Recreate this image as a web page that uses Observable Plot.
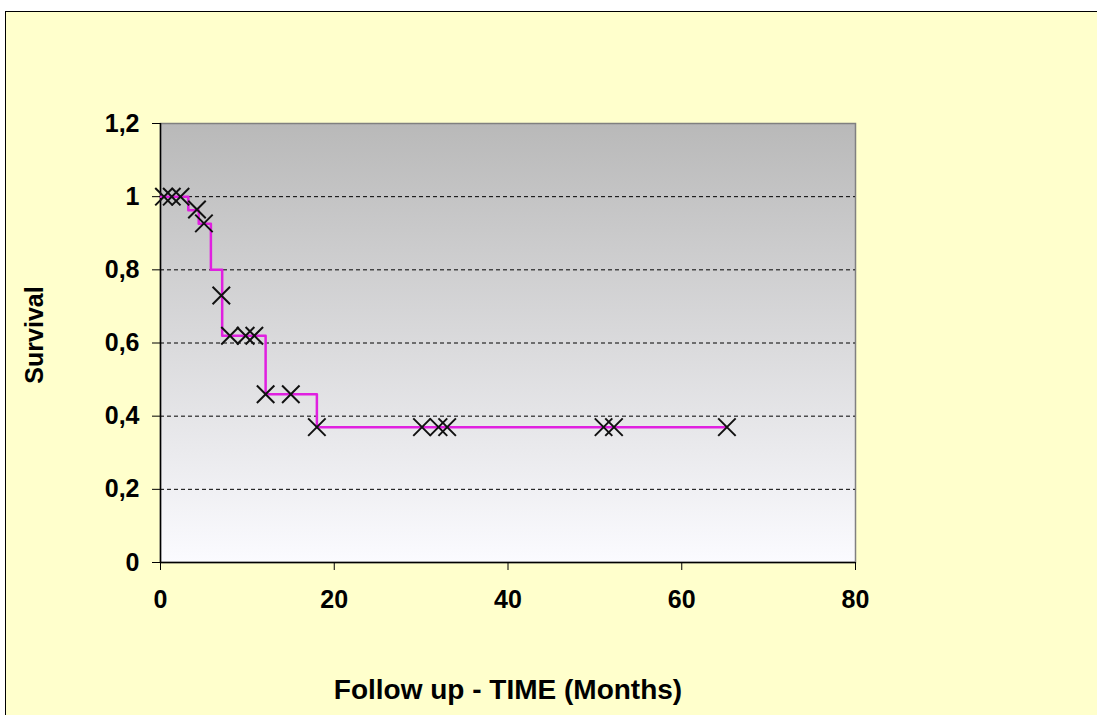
<!DOCTYPE html>
<html>
<head>
<meta charset="utf-8">
<script src="https://cdn.jsdelivr.net/npm/d3@7"></script>
<script src="https://cdn.jsdelivr.net/npm/@observablehq/plot@0.6"></script>
<style>
  html, body { margin: 0; padding: 0; background: #ffffff; overflow: hidden; }
  #frame { position: absolute; left: 5px; top: 11px; width: 1200px; height: 800px;
           background: #FFFFCC; border: 1px solid #000; }
  #chart { position: absolute; left: 0; top: 0; }
</style>
</head>
<body>
<div id="frame"></div>
<div id="chart"></div>
<script>
// Kaplan–Meier step curve (time in months, survival)
const stepTimes = [0, 3.2, 4.4, 5.8, 7.1, 12.1, 18.0, 65.2];
const stepSurv  = [1, 0.963, 0.926, 0.80, 0.62, 0.46, 0.37, 0.37];

// Observation markers (crosses)
const markTimes = [0.4, 1.3, 2.3, 4.2, 5.0, 7.0, 8.0, 9.8, 10.8, 12.1, 15.0, 18.0, 30.1, 32.0, 33.0, 51.0, 52.2, 65.2];
const markSurv  = [1, 1, 1, 0.965, 0.927, 0.73, 0.62, 0.62, 0.62, 0.46, 0.46, 0.37, 0.37, 0.37, 0.37, 0.37, 0.37, 0.37];

const xTicks = [0, 20, 40, 60, 80];
const yTicks = [0, 0.2, 0.4, 0.6, 0.8, 1, 1.2];
const gridY  = [0.2, 0.4, 0.6, 0.8, 1];

const xTitle = "Follow up - TIME (Months)";
const yTitle = "Survival";

const stepData = stepTimes.map((t, i) => ({t, s: stepSurv[i]}));
const markData = markTimes.map((t, i) => ({t, s: markSurv[i]}));

const fmt = d => String(d).replace(".", ",");

const chart = Plot.plot({
  width: 1097,
  height: 715,
  marginLeft: 160,
  marginRight: 242,
  marginTop: 123,
  marginBottom: 153,
  style: {background: "transparent", fontFamily: "'Liberation Sans', Arial, sans-serif", fontWeight: "bold", color: "#000"},
  x: {domain: [0, 80], label: null},
  y: {domain: [0, 1.2], label: null},
  marks: [
    Plot.frame({fill: "url(#plotbg)", stroke: "#808080", strokeWidth: 1.5}),
    Plot.ruleY(gridY, {stroke: "#000", strokeWidth: 1, strokeDasharray: "4,3"}),
    Plot.ruleX([0], {stroke: "#000", strokeWidth: 1.5}),
    Plot.ruleY([0], {stroke: "#000", strokeWidth: 1.5}),
    Plot.line(stepData, {x: "t", y: "s", curve: "step-after", stroke: "#e020e0", strokeWidth: 2.5}),
    Plot.dot(markData, {x: "t", y: "s", symbol: "times", r: 8, stroke: "#111", strokeWidth: 2}),
    Plot.axisX({ticks: xTicks, tickFormat: fmt, tickSize: 8, tickPadding: 20, fontSize: 25, fontWeight: "bold", label: null}),
    Plot.axisY({ticks: yTicks, tickFormat: fmt, tickSize: 8, tickPadding: 13, fontSize: 25, fontWeight: "bold", label: null}),
    Plot.text([xTitle], {frameAnchor: "bottom", lineAnchor: "middle", textAnchor: "middle", dy: 128, fontSize: 28, fontWeight: "bold", fill: "#000", letterSpacing: "-0.3px"}),
    Plot.text([yTitle], {frameAnchor: "left", textAnchor: "middle", lineAnchor: "middle", dx: -126, dy: -8, rotate: -90, fontSize: 25, fontWeight: "bold", fill: "#000"})
  ]
});

// gradient for plot background
const svg = d3.select(chart);
const defs = svg.insert("defs", ":first-child");
const g = defs.append("linearGradient").attr("id", "plotbg").attr("x1", 0).attr("y1", 0).attr("x2", 0).attr("y2", 1);
g.append("stop").attr("offset", "0%").attr("stop-color", "#b9b9b9");
g.append("stop").attr("offset", "100%").attr("stop-color", "#fbfbff");

document.getElementById("chart").appendChild(chart);
</script>
</body>
</html>
